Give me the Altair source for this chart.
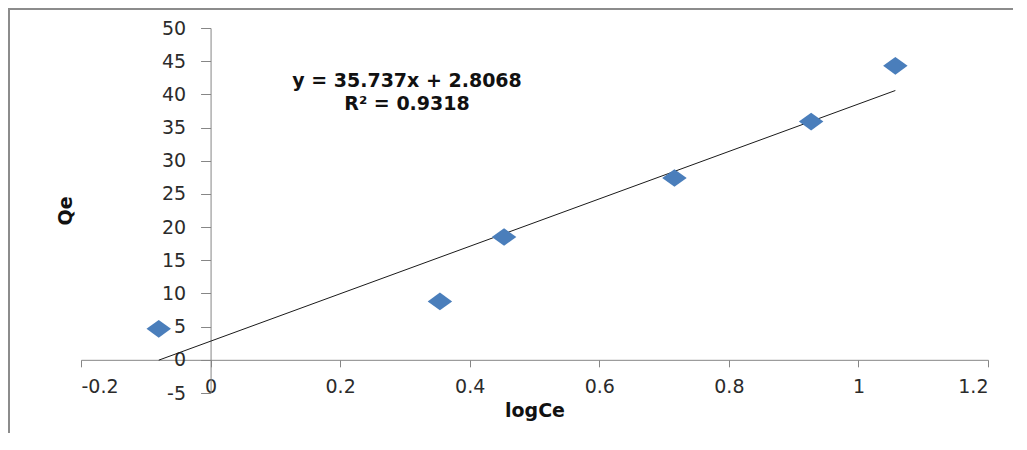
import altair as alt
import pandas as pd

# Data
log_ce = [-0.080, 0.354, 0.453, 0.716, 0.927, 1.057]
qe = [4.67, 8.8, 18.5, 27.4, 35.9, 44.3]

# Trendline coefficients as printed on the chart
SLOPE = 35.737
INTERCEPT = 2.8068
R2 = 0.9318

x_ticks = [-0.2, 0, 0.2, 0.4, 0.6, 0.8, 1, 1.2]
y_ticks = [-5, 0, 5, 10, 15, 20, 25, 30, 35, 40, 45, 50]

W, H = 907, 365
X_DOM = [-0.2, 1.2]
Y_DOM = [-5, 50]

pts = pd.DataFrame({"logCe": log_ce, "Qe": qe})
xmin, xmax = min(log_ce), max(log_ce)
trend = pd.DataFrame({"logCe": [xmin, xmax],
                      "Qe": [SLOPE * xmin + INTERCEPT, SLOPE * xmax + INTERCEPT]})

# axis offsets so axes cross at zero (Excel style)
y_axis_offset = -W * (0 - X_DOM[0]) / (X_DOM[1] - X_DOM[0])
x_axis_offset = -H * (0 - Y_DOM[0]) / (Y_DOM[1] - Y_DOM[0])

FONT = "DejaVu Sans"
AX = "#868686"

x_scale = alt.Scale(domain=X_DOM, nice=False, zero=False)
y_scale = alt.Scale(domain=Y_DOM, nice=False, zero=False)

x_axis = alt.Axis(values=x_ticks, labelExpr="toString(datum.value)",
                  offset=x_axis_offset, grid=False,
                  domainColor=AX, tickColor=AX, tickSize=7,
                  labelFont=FONT, labelFontSize=19, labelColor="#2b2b2b",
                  labelPadding=11,
                  titleFont=FONT, titleFontSize=19, titleFontWeight="bold",
                  titleColor="#111111", titlePadding=5)
y_axis = alt.Axis(values=y_ticks, labelExpr="toString(datum.value)",
                  offset=y_axis_offset, grid=False,
                  domainColor=AX, tickColor=AX, tickSize=10,
                  labelFont=FONT, labelFontSize=19, labelColor="#2b2b2b",
                  labelPadding=15,
                  titleFont=FONT, titleFontSize=19, titleFontWeight="bold",
                  titleColor="#111111", titlePadding=86)

x_enc = alt.X("logCe:Q", scale=x_scale, title="logCe", axis=x_axis)
y_enc = alt.Y("Qe:Q", scale=y_scale, title="Qe", axis=y_axis)

points = alt.Chart(pts).mark_point(
    shape="M-1,0L0,-0.72L1,0L0,0.72Z", filled=True, opacity=1,
    color="#4A7EBB", size=600, strokeWidth=0
).encode(x=x_enc, y=y_enc)

line = alt.Chart(trend).mark_line(color="#1a1a1a", strokeWidth=1).encode(
    x=x_enc, y=y_enc)

eq = pd.DataFrame({"t": [f"y = {SLOPE}x + {INTERCEPT}\nR\u00b2 = {R2}"]})
eq_text = alt.Chart(eq).mark_text(
    font=FONT, fontSize=19, fontWeight="bold", color="#111111", align="center",
    baseline="middle", lineBreak="\n", lineHeight=23
).encode(text="t:N", x=alt.value(326), y=alt.value(53))

border = alt.Chart(pd.DataFrame({"a": [0]})).mark_rect(
    fill=None, stroke="#8c8c8c", strokeWidth=2
).encode(x=alt.value(-72), y=alt.value(-19), x2=alt.value(3000), y2=alt.value(3000))

chart = alt.layer(line, points, eq_text, border).properties(
    width=W, height=H,
    autosize=alt.AutoSizeParams(type="none"),
    padding={"left": 73, "top": 20, "right": 25, "bottom": 40},
).configure_view(stroke=None).configure_axis(grid=False)

chart.save("out.html", embed_options={"renderer": "svg", "actions": False})
